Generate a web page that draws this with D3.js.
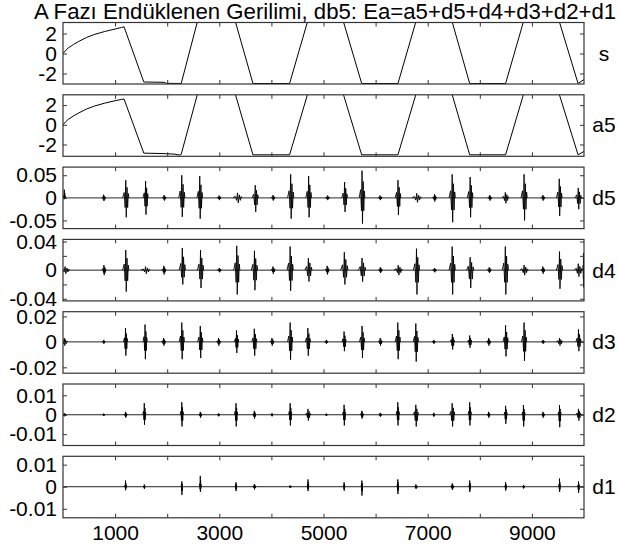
<!DOCTYPE html>
<html><head><meta charset="utf-8">
<script src="https://cdn.jsdelivr.net/npm/d3@7"></script>
<style>body{margin:0;background:#fff} text{font-family:"Liberation Sans",Arial,sans-serif}</style>
</head><body><svg id="c" width="618" height="546"></svg>
<script>
// ---------- data ----------
const titleText = "A Fazı Endüklenen Gerilimi, db5: Ea=a5+d5+d4+d3+d2+d1";
const panelNames = ["s","a5","d5","d4","d3","d2","d1"];
const panelYMin = [-3.05,-3.2,-0.068,-0.043,-0.0246,-0.0158,-0.0141];
const panelYMax = [3.1,3.05,0.068,0.043,0.0237,0.0158,0.0138];
const panelTicks = [[-2,0,2],[-2,0,2],[-0.05,0,0.05],[-0.04,-0.02,0,0.02,0.04],[-0.02,0,0.02],[-0.01,0,0.01],[-0.01,0,0.01]];
const panelTickLabels = [["-2","0","2"],["-2","0","2"],["-0.05","0","0.05"],["-0.04","","0","","0.04"],["-0.02","0","0.02"],["-0.01","0","0.01"],["-0.01","0","0.01"]];
const xTicks = [1000,2000,3000,4000,5000,6000,7000,8000,9000];
const xTickLabels = ["1000","","3000","","5000","","7000","","9000"];

const sX = [0,50,100,200,300,450,600,800,1000,1120,1172,1551,1940,1980,2269,2590,3297,3646,4349,4705,5370,5733,6429,6785,7457,7806,8495,8850,9514,9886,10000];
const sY = [0,0.3,0.55,0.9,1.2,1.6,1.9,2.2,2.45,2.6,2.67,-2.85,-2.88,-2.98,-3.0,3.4,3.4,-3.0,-3.0,3.4,3.4,-3.0,-3.0,3.4,3.4,-3.0,-3.0,3.4,3.4,-3.0,-2.6];
const a5X = [0,50,100,200,300,450,600,800,1000,1120,1172,1551,1900,2150,2230,2269,2590,3297,3646,4349,4705,5370,5733,6429,6785,7457,7806,8495,8850,9514,9886,10000];
const a5Y = [0,0.3,0.55,0.9,1.2,1.6,1.9,2.2,2.45,2.58,2.62,-2.88,-2.92,-2.98,-3.08,-3.0,3.3,3.3,-3.05,-3.05,3.3,3.3,-3.05,-3.05,3.3,3.3,-3.05,-3.05,3.3,3.3,-3.05,-2.7];

// bursts: [position, max, min, half-width in samples]
const d5Bursts = [[25,0.018,-0.003,20],[780,0.007,-0.007,40],[1205,0.039,-0.043,60],[1585,0.037,-0.037,50],[1940,0.006,-0.006,40],[2280,0.05,-0.042,60],[2625,0.048,-0.046,55],[2995,0.005,-0.005,40],[3350,0.011,-0.011,90],[3690,0.028,-0.031,60],[4030,0.006,-0.006,40],[4370,0.052,-0.046,60],[4715,0.048,-0.043,55],[5075,0.005,-0.005,40],[5405,0.035,-0.031,55],[5740,0.060,-0.057,55],[6085,0.005,-0.005,40],[6430,0.039,-0.038,55],[6790,0.010,-0.010,90],[7130,0.008,-0.008,40],[7470,0.052,-0.054,60],[7815,0.046,-0.043,55],[8190,0.006,-0.006,40],[8490,0.012,-0.012,70],[8850,0.052,-0.050,60],[9210,0.006,-0.006,40],[9525,0.042,-0.040,55],[9890,0.022,-0.025,60]];
const d4Bursts = [[40,0.005,-0.005,90],[785,0.007,-0.007,40],[1205,0.028,-0.030,60],[1585,0.005,-0.005,90],[1935,0.006,-0.006,40],[2290,0.031,-0.020,60],[2640,0.028,-0.025,60],[3000,0.003,-0.003,40],[3335,0.034,-0.034,60],[3675,0.027,-0.028,60],[4030,0.005,-0.005,40],[4360,0.033,-0.029,60],[4710,0.017,-0.016,70],[5070,0.006,-0.006,40],[5400,0.025,-0.020,70],[5740,0.017,-0.016,70],[6090,0.004,-0.004,40],[6435,0.007,-0.007,80],[6785,0.030,-0.034,60],[7130,0.003,-0.003,40],[7470,0.033,-0.034,60],[7815,0.018,-0.025,70],[8180,0.004,-0.004,40],[8490,0.033,-0.034,60],[8850,0.007,-0.007,80],[9210,0.005,-0.005,40],[9530,0.026,-0.026,60],[9890,0.009,-0.009,80],[9990,0.024,-0.024,10]];
const d3Bursts = [[25,0.003,-0.003,60],[780,0.0015,-0.0015,30],[1200,0.0108,-0.0108,40],[1575,0.0136,-0.0136,40],[1930,0.003,-0.003,40],[2280,0.0152,-0.0136,50],[2635,0.0125,-0.0127,50],[2985,0.003,-0.003,40],[3330,0.009,-0.0087,40],[3672,0.0103,-0.0108,50],[4010,0.003,-0.003,40],[4360,0.0152,-0.014,50],[4700,0.0108,-0.0108,50],[5053,0.0015,-0.0015,30],[5395,0.0081,-0.0073,40],[5740,0.0125,-0.0127,50],[6088,0.003,-0.003,40],[6426,0.0152,-0.0136,50],[6772,0.0144,-0.0155,50],[7115,0.0015,-0.0015,30],[7473,0.0062,-0.006,40],[7806,0.005,-0.0046,40],[8169,0.003,-0.003,40],[8495,0.013,-0.0114,50],[8850,0.0152,-0.0149,50],[9213,0.0015,-0.0015,30],[9530,0.003,-0.003,60],[9894,0.0098,-0.0073,50]];
const d2Bursts = [[25,0.0008,-0.0008,40],[780,0.0006,-0.0006,20],[1200,0.0015,-0.0015,30],[1560,0.0059,-0.0051,30],[2280,0.0064,-0.006,30],[2635,0.0015,-0.0015,30],[2985,0.0008,-0.0008,20],[3320,0.0059,-0.006,30],[3672,0.002,-0.002,30],[4010,0.0008,-0.0008,20],[4360,0.0059,-0.0055,30],[4702,0.003,-0.003,50],[5053,0.0006,-0.0006,20],[5395,0.0051,-0.0055,30],[5736,0.002,-0.002,30],[6088,0.001,-0.001,30],[6426,0.0064,-0.0055,30],[6772,0.0051,-0.006,50],[7115,0.001,-0.001,20],[7470,0.0059,-0.006,50],[7806,0.0064,-0.0055,30],[8169,0.0015,-0.0015,30],[8495,0.0046,-0.0046,30],[8838,0.005,-0.006,30],[9213,0.0015,-0.0015,30],[9530,0.005,-0.0064,30],[9894,0.003,-0.003,50]];
const d1Bursts = [[1200,0.0028,-0.0016,15],[1560,0.001,-0.001,15],[2280,0.0024,-0.0037,15],[2635,0.0049,-0.0024,15],[3320,0.002,-0.002,15],[3672,0.0012,-0.0012,30],[4360,0.0006,-0.0006,20],[4702,0.0033,-0.002,15],[5395,0.002,-0.0018,15],[5736,0.0028,-0.004,15],[6426,0.0033,-0.0033,15],[6772,0.001,-0.001,30],[7470,0.0015,-0.0015,30],[7806,0.0028,-0.0024,15],[8495,0.002,-0.0018,15],[8838,0.0008,-0.0008,20],[9530,0.0037,-0.0024,15],[9894,0.0024,-0.0028,15]];

// ---------- layout ----------
const W = 618, H = 546;
const left = 63, right = 584, top0 = 22.5, step = 72.3, ph = 61.5;
const fontSize = 21;

const svg = d3.select("#c");
svg.append("rect").attr("width",W).attr("height",H).attr("fill","#fff");

const x = d3.scaleLinear().domain([0,10000]).range([left,right]);

svg.append("text").attr("x",325).attr("y",19).attr("text-anchor","middle")
  .attr("font-size",22.2).attr("fill","#000").text(titleText);

const signals = [{xs:sX, ys:sY},{xs:a5X, ys:a5Y}];
const bursts = [null,null,d5Bursts,d4Bursts,d3Bursts,d2Bursts,d1Bursts];

function burstPoints(b){
  const [c,hi,lo,w] = b;
  return [[c-w,0],[c-w*0.5,hi*0.3],[c-w*0.2,lo*0.5],[c,hi],[c+w*0.15,lo],[c+w*0.4,hi*0.6],[c+w*0.6,lo*0.5],[c+w*0.8,hi*0.25],[c+w,0]];
}

panelNames.forEach((name,i)=>{
  const t = top0 + i*step, b = t + ph;
  const y = d3.scaleLinear().domain([panelYMin[i],panelYMax[i]]).range([b,t]);
  const g = svg.append("g");
  const cid = "clip"+i;
  svg.append("clipPath").attr("id",cid).append("rect")
    .attr("x",left).attr("y",t).attr("width",right-left).attr("height",ph);
  const plot = g.append("g").attr("clip-path",`url(#${cid})`);
  const line = d3.line().x(d=>x(d[0])).y(d=>y(d[1]));
  if(i<2){
    const s = signals[i];
    plot.append("path").datum(s.xs.map((v,k)=>[v,s.ys[k]]))
      .attr("d",line).attr("fill","none").attr("stroke","#000").attr("stroke-width",1);
  } else {
    plot.append("path").datum([[0,0],[10000,0]]).attr("d",line)
      .attr("fill","none").attr("stroke", i===2?"#555":"#222").attr("stroke-width", i===2?1.4:1);
    plot.selectAll("path.b").data(bursts[i]).enter().append("path").attr("class","b")
      .attr("d",d=>line(burstPoints(d))).attr("fill","none").attr("stroke","#000").attr("stroke-width",0.9);
  }
  // axes
  const style = sel => { sel.select(".domain").remove();
    sel.selectAll("line").attr("stroke","#333");
    sel.selectAll("text").attr("font-size",fontSize).attr("font-family","Liberation Sans, Arial, sans-serif").attr("fill","#000"); };
  g.append("g").attr("transform",`translate(${left},0)`)
    .call(d3.axisLeft(y).tickValues(panelTicks[i]).tickSize(-4).tickPadding(6)
      .tickFormat((d,k)=>panelTickLabels[i][k])).call(style);
  g.append("g").attr("transform",`translate(${right},0)`)
    .call(d3.axisRight(y).tickValues(panelTicks[i]).tickSize(-4).tickFormat("")).call(style);
  g.append("g").attr("transform",`translate(0,${t})`)
    .call(d3.axisTop(x).tickValues(xTicks).tickSize(-4).tickFormat("")).call(style);
  g.append("g").attr("transform",`translate(0,${b})`)
    .call(d3.axisBottom(x).tickValues(xTicks).tickSize(-4).tickPadding(7)
      .tickFormat((d,k)=> i===panelNames.length-1 ? xTickLabels[k] : "")).call(style);
  g.append("rect").attr("x",left).attr("y",t).attr("width",right-left).attr("height",ph)
    .attr("fill","none").attr("stroke","#333").attr("stroke-width",1.2);
  g.append("text").attr("x",604).attr("y",y(0)).attr("dy","0.35em").attr("text-anchor","middle")
    .attr("font-size",fontSize).attr("fill","#000").text(name);
});
</script></body></html>
